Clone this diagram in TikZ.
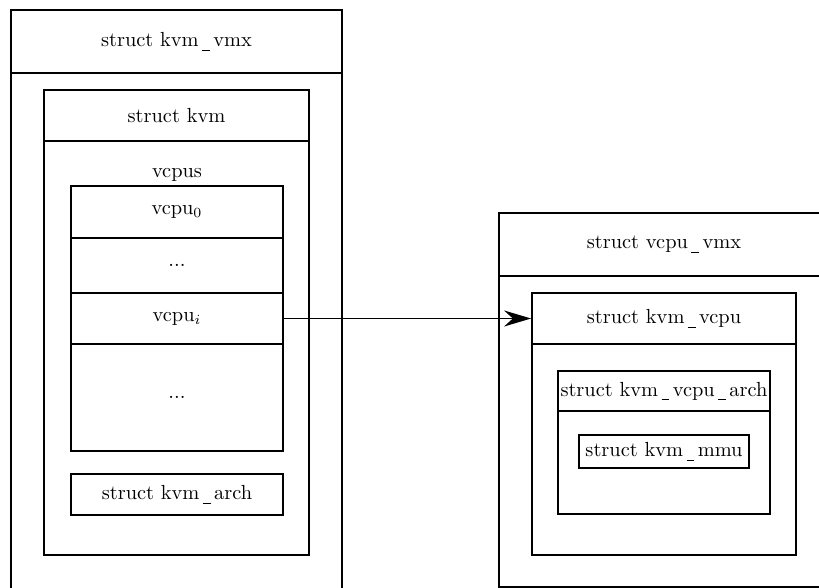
\documentclass[tikz,border=0pt]{standalone}
\usetikzlibrary{fit,arrows.meta}
% underscore drawn as a short low rule with a little room on each side
\newcommand\us{\kern0.17em\rule[-0.2em]{0.38em}{0.04em}\kern0.17em}
\begin{document}
\begin{tikzpicture}[x=0.5pt,y=-0.5pt,
  every node/.style={font=\fontsize{10.2}{12.2}\selectfont},
  cell/.style={fit={#1},inner sep=0pt,draw,line width=0.7pt},
  outer/.style={cell={#1},line width=1.1pt},
  middle/.style={cell={#1},line width=0.9pt},
  small/.style={cell={#1},line width=0.6pt},
  link/.style={line width=0.6pt,-{Stealth[length=13.5pt,width=8pt]}}]
\useasboundingbox (0,0) rectangle (819,588);

% struct kvm_vmx
\node[outer={(11,10) (342,73)}] (vmxh) {};
\node[outer={(11,73) (342,589)}] (vmxb) {};
\node (vmxt) at (vmxh.center) {struct kvm\us vmx};
% struct kvm
\node[middle={(44,90) (309,141)}] (kvmh) {};
\node[middle={(44,141) (309,555)}] (kvmb) {};
\node (kvmt) at (kvmh.center) {struct kvm};
\node (vcpus) at (177,175) {vcpus};
% vcpu array
\node[cell={(71,186) (283,238)}] (v0) {};
\node[cell={(71,238) (283,293)}] (vd1) {};
\node[cell={(71,293) (283,344)}] (vi) {};
\node[cell={(71,344) (283,451)}] (vd2) {};
\node (v0t) at (v0.center) {vcpu$_0$};
\node (vd1t) at (vd1.center) {...};
\node (vit) at (vi.center) {vcpu$_i$};
\node (vd2t) at (vd2.center) {...};
\node[cell={(71,474) (283,515)}] (karch) {};
\node (karcht) at (karch.center) {struct kvm\us arch};

% struct vcpu_vmx
\node[outer={(499,213) (829,276)}] (vvmxh) {};
\node[outer={(499,276) (829,587)}] (vvmxb) {};
\node (vvmxt) at (vvmxh.center) {struct vcpu\us vmx};
% struct kvm_vcpu
\node[middle={(532,293) (796,344)}] (kvcpuh) {};
\node[middle={(532,344) (796,555)}] (kvcpub) {};
\node (kvcput) at (kvcpuh.center) {struct kvm\us vcpu};
% struct kvm_vcpu_arch
\node[cell={(558,371) (770,411)}] (archh) {};
\node[cell={(558,411) (770,514)}] (archb) {};
\node (archt) at (archh.center) {struct kvm\us vcpu\us arch};
\node[small={(579,435) (749,468)}] (mmu) {};
\node (mmut) at (mmu.center) {struct kvm\us mmu};

% vcpu_i points to its kvm_vcpu
\draw[link] (vi.east) -- (kvcpuh.west);
\end{tikzpicture}
\end{document}
